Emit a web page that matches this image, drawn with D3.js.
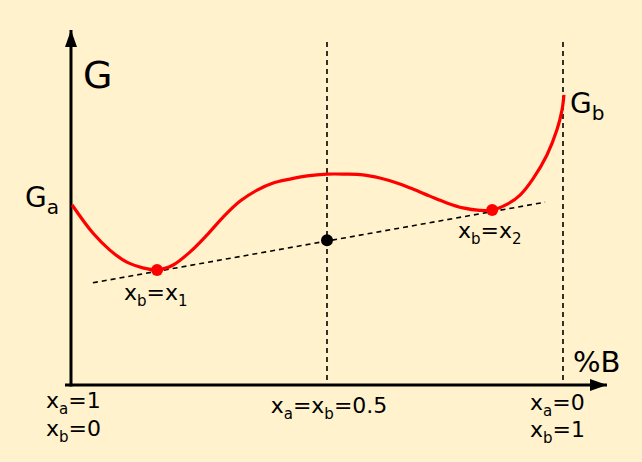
<!DOCTYPE html>
<html>
<head>
<meta charset="utf-8">
<script src="https://cdn.jsdelivr.net/npm/d3@7"></script>
<style>
  html, body { margin: 0; padding: 0; background: #fff2cc; }
  svg { display: block; }
  text { font-family: "DejaVu Sans", sans-serif; fill: #000; }
</style>
</head>
<body>
<svg id="chart" width="642" height="462"></svg>
<script>
// ---- data ----
// mole fraction of B (x_b) and Gibbs energy (arbitrary units)
const curveX = [-0.040, 0.004, 0.040, 0.076, 0.110, 0.140, 0.174, 0.210, 0.246, 0.280, 0.316, 0.352, 0.386, 0.422, 0.458, 0.500, 0.538, 0.576, 0.612, 0.648, 0.682, 0.718, 0.754, 0.788, 0.824, 0.850, 0.883, 0.909, 0.936, 0.966, 0.987, 0.998, 1.002];
const curveG = [5.07, 4.28, 3.80, 3.46, 3.30, 3.24, 3.38, 3.75, 4.23, 4.73, 5.18, 5.49, 5.69, 5.80, 5.89, 5.94, 5.94, 5.92, 5.83, 5.69, 5.52, 5.32, 5.13, 4.99, 4.92, 4.93, 5.10, 5.35, 5.80, 6.48, 7.18, 7.75, 8.17];
const tangentX = [0.004, 0.962];
const tangentG = [2.88, 5.15];
const tangentPointX = [0.140, 0.850];
const tangentPointG = [3.24, 4.93];
const midPointX = [0.5];
const midPointG = [4.08];
const guideX = [0.5, 1.0];
const guideTopG = 9.66;

// ---- layout ----
const svg = d3.select("#chart");
const W = 642, H = 462;
svg.append("rect").attr("width", W).attr("height", H).attr("fill", "#fff2cc");

const x = d3.scaleLinear().domain([0, 1]).range([91, 563]);
const y = d3.scaleLinear().domain([0, 10]).range([385, 30]);
const axisX0 = x(-0.0424);   // vertical axis position
const axisY0 = y(0);         // horizontal axis position

// arrow marker
const defs = svg.append("defs");
defs.append("marker").attr("id", "arrow")
  .attr("viewBox", "0 0 17 12").attr("refX", 17).attr("refY", 6)
  .attr("markerWidth", 17).attr("markerHeight", 12)
  .attr("markerUnits", "userSpaceOnUse").attr("orient", "auto")
  .append("path").attr("d", "M0,0 L17,6 L0,12 Z").attr("fill", "#000");

// dashed vertical guides
svg.selectAll("line.guide").data(guideX).enter().append("line")
  .attr("class", "guide")
  .attr("x1", d => x(d)).attr("x2", d => x(d))
  .attr("y1", y(guideTopG)).attr("y2", axisY0)
  .attr("stroke", "#000").attr("stroke-width", 1.6)
  .attr("stroke-dasharray", "5,4");

// tangent line
svg.append("line")
  .attr("x1", x(tangentX[0])).attr("y1", y(tangentG[0]))
  .attr("x2", x(tangentX[1])).attr("y2", y(tangentG[1]))
  .attr("stroke", "#000").attr("stroke-width", 1.6)
  .attr("stroke-dasharray", "5,4");

// axes
svg.append("line")
  .attr("x1", axisX0).attr("y1", axisY0 + 1.5)
  .attr("x2", axisX0).attr("y2", 30)
  .attr("stroke", "#000").attr("stroke-width", 3)
  .attr("marker-end", "url(#arrow)");
svg.append("line")
  .attr("x1", axisX0 - 6).attr("y1", axisY0)
  .attr("x2", 607).attr("y2", axisY0)
  .attr("stroke", "#000").attr("stroke-width", 3)
  .attr("marker-end", "url(#arrow)");

// Gibbs curve
const pts = curveX.map((d, i) => [d, curveG[i]]);
svg.append("path").datum(pts)
  .attr("d", d3.line().x(d => x(d[0])).y(d => y(d[1])).curve(d3.curveCatmullRom.alpha(0.5)))
  .attr("fill", "none").attr("stroke", "#ff0000").attr("stroke-width", 3.2);

// points
svg.selectAll("circle.tp").data(tangentPointX).enter().append("circle")
  .attr("class", "tp")
  .attr("cx", d => x(d)).attr("cy", (d, i) => y(tangentPointG[i]))
  .attr("r", 6).attr("fill", "#ff0000");
svg.selectAll("circle.mp").data(midPointX).enter().append("circle")
  .attr("class", "mp")
  .attr("cx", d => x(d)).attr("cy", (d, i) => y(midPointG[i]))
  .attr("r", 6).attr("fill", "#000");

// text helper: parts = [[text, isSub], ...]
function label(px, py, parts, size, subSize, anchor) {
  const t = svg.append("text").attr("x", px).attr("y", py)
    .attr("font-size", size).attr("text-anchor", anchor || "start");
  let shifted = false;
  parts.forEach(([s, sub]) => {
    const ts = t.append("tspan").text(s);
    if (sub && !shifted) { ts.attr("dy", size * 0.25).attr("font-size", subSize); shifted = true; }
    else if (!sub && shifted) { ts.attr("dy", -size * 0.25); shifted = false; }
    else if (sub) ts.attr("font-size", subSize);
  });
  return t;
}

label(83, 88, [["G", false]], 38, 26);
label(25, 207, [["G", false], ["a", true]], 28, 20);
label(570, 113, [["G", false], ["b", true]], 28, 20);
label(573, 372, [["%B", false]], 29, 20);

const fs = 22, ss = 15;
label(124, 300, [["x", false], ["b", true], ["=x", false], ["1", true]], fs, ss);
label(458, 238, [["x", false], ["b", true], ["=x", false], ["2", true]], fs, ss);
label(46, 408, [["x", false], ["a", true], ["=1", false]], fs, ss);
label(46, 436, [["x", false], ["b", true], ["=0", false]], fs, ss);
label(329, 413, [["x", false], ["a", true], ["=x", false], ["b", true], ["=0.5", false]], fs, ss, "middle");
label(530, 410, [["x", false], ["a", true], ["=0", false]], fs, ss);
label(530, 437, [["x", false], ["b", true], ["=1", false]], fs, ss);
</script>
</body>
</html>
